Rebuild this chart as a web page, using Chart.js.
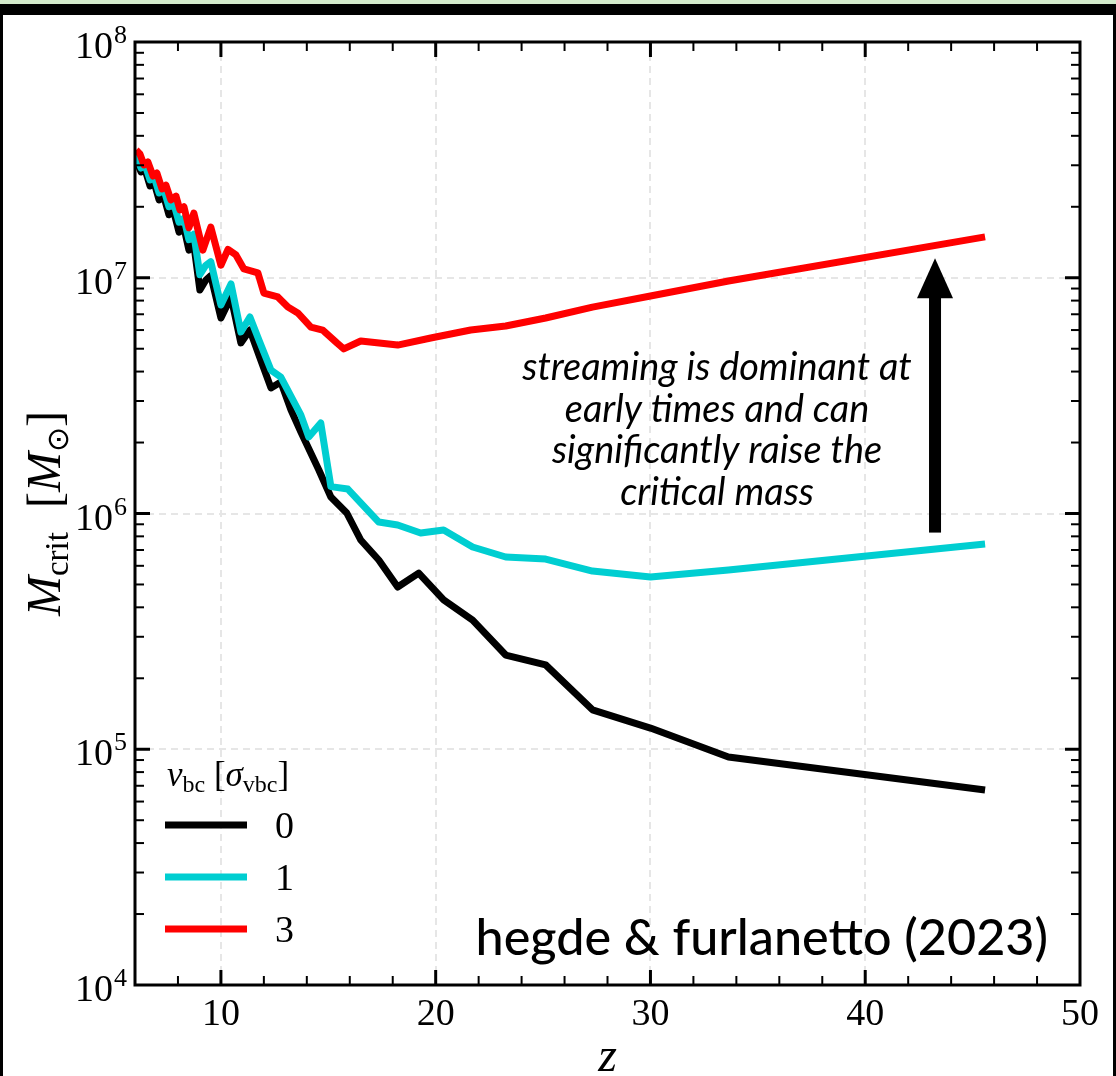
<!DOCTYPE html>
<html>
<head>
<meta charset="utf-8">
<script src="https://cdn.jsdelivr.net/npm/chart.js@4.4.1/dist/chart.umd.min.js"></script>
<style>
html, body { margin: 0; padding: 0; background: #fff; }
#wrap { position: relative; width: 1116px; height: 1076px; overflow: hidden; background: #fff; }
#wrap canvas { position: absolute; left: 0; top: 0; }
.edge { position: absolute; background: #000; }
</style>
</head>
<body>
<div id="wrap">
  <canvas id="chart" width="1116" height="1076"></canvas>
  <div class="edge" style="left:0;top:4px;width:1116px;height:11px"></div>
  <div class="edge" style="left:0;top:0;width:3px;height:1076px"></div>
  <div class="edge" style="left:1113px;top:0;width:3px;height:1076px"></div>
  <div class="edge" style="left:0;top:0;width:1116px;height:4px;background:#d3eacb"></div>
</div>
<script>
// v_bc = 0 (black)
const zV0 = [6.05, 6.28, 6.47, 6.70, 6.88, 7.12, 7.35, 7.58, 7.81, 8.05, 8.28, 8.51, 8.74, 9.02, 9.30, 9.53,
  10.0, 10.47, 10.93, 11.35, 11.77, 12.33, 12.79, 13.26, 13.72, 14.56, 15.12, 15.86, 16.51, 17.35, 18.23,
  19.21, 20.37, 21.72, 23.26, 25.12, 27.30, 30.0, 33.63, 45.58];
const mV0 = [3.16e7, 2.81e7, 2.87e7, 2.45e7, 2.55e7, 2.14e7, 2.20e7, 1.85e7, 1.90e7, 1.56e7, 1.63e7, 1.31e7, 1.38e7, 8.87e6, 9.78e6, 1.02e7,
  6.75e6, 8.29e6, 5.29e6, 6.00e6, 4.70e6, 3.41e6, 3.61e6, 2.75e6, 2.22e6, 1.53e6, 1.175e6, 1.005e6, 7.72e5, 6.35e5, 4.88e5,
  5.59e5, 4.30e5, 3.53e5, 2.51e5, 2.28e5, 1.47e5, 1.23e5, 9.27e4, 6.72e4];

// v_bc = 1 (cyan)
const zV1 = [6.05, 6.28, 6.47, 6.70, 6.88, 7.12, 7.35, 7.58, 7.81, 8.05, 8.28, 8.51, 8.74, 9.02, 9.30, 9.53,
  10.0, 10.47, 10.93, 11.35, 11.77, 12.33, 12.79, 13.72, 14.09, 14.65, 15.12, 15.91, 17.35, 18.23, 19.30,
  20.37, 21.72, 23.26, 25.12, 27.30, 30.0, 33.63, 45.58];
const mV1 = [3.32e7, 2.92e7, 3.01e7, 2.60e7, 2.70e7, 2.29e7, 2.36e7, 2.00e7, 2.06e7, 1.72e7, 1.79e7, 1.45e7, 1.53e7, 1.03e7, 1.13e7, 1.17e7,
  7.66e6, 9.41e6, 5.89e6, 6.82e6, 5.44e6, 4.06e6, 3.79e6, 2.62e6, 2.11e6, 2.42e6, 1.30e6, 1.27e6, 9.20e5, 8.94e5, 8.27e5,
  8.51e5, 7.21e5, 6.54e5, 6.41e5, 5.70e5, 5.38e5, 5.76e5, 7.42e5];

// v_bc = 3 (red)
const zV3 = [6.05, 6.23, 6.42, 6.60, 6.84, 7.02, 7.26, 7.44, 7.67, 7.91, 8.09, 8.28, 8.51, 8.74, 9.16, 9.53,
  10.0, 10.33, 10.70, 11.07, 11.72, 12.0, 12.65, 13.12, 13.58, 14.19, 14.74, 15.40, 15.72, 16.51, 18.23,
  19.77, 21.63, 23.26, 25.12, 27.30, 30.0, 33.63, 45.58];
const mV3 = [3.48e7, 3.35e7, 3.01e7, 3.10e7, 2.70e7, 2.78e7, 2.38e7, 2.47e7, 2.14e7, 2.22e7, 1.94e7, 2.00e7, 1.63e7, 1.88e7, 1.31e7, 1.64e7,
  1.13e7, 1.32e7, 1.25e7, 1.09e7, 1.05e7, 8.61e6, 8.29e6, 7.51e6, 7.09e6, 6.18e6, 6.00e6, 5.29e6, 4.99e6, 5.39e6, 5.18e6,
  5.55e6, 6.00e6, 6.24e6, 6.75e6, 7.51e6, 8.37e6, 9.69e6, 1.49e7];

const seriesLabels = ['0', '1', '3'];
const seriesColors = ['#000000', '#00ced1', '#ff0000'];

const xTicks = [8, 10, 12, 14, 16, 18, 20, 22, 24, 26, 28, 30, 32, 34, 36, 38, 40, 42, 44, 46, 48];
const xMajor = [10, 20, 30, 40, 50];
const xLabels = ['10', '20', '30', '40', '50'];
const yTicks = [2e4, 3e4, 4e4, 5e4, 6e4, 7e4, 8e4, 9e4, 1e5, 2e5, 3e5, 4e5, 5e5, 6e5, 7e5, 8e5, 9e5,
  1e6, 2e6, 3e6, 4e6, 5e6, 6e6, 7e6, 8e6, 9e6, 1e7, 2e7, 3e7, 4e7, 5e7, 6e7, 7e7, 8e7, 9e7];
const yMajor = [1e4, 1e5, 1e6, 1e7, 1e8];
const yExps = ['4', '5', '6', '7', '8'];

const noteLines = ['streaming is dominant at', 'early times and can', 'significantly raise the', 'critical mass'];
const credit = 'hegde & furlanetto (2023)';
const arrowZ = 43.25, arrowFrom = 8.3e5, arrowTo = 1.21e7;

const SERIF = '"Liberation Serif", "DejaVu Serif", serif';
const SANS = 'Lato, "Noto Sans", sans-serif';

function pts(zs, ms) { return zs.map((z, i) => ({ x: z, y: ms[i] })); }

// draws pieces of mixed text along a baseline, returns total width
function richText(ctx, parts, x, y, measureOnly) {
  let cx = x;
  parts.forEach(p => {
    ctx.font = p.f;
    if (!measureOnly) ctx.fillText(p.t, cx, y + (p.dy || 0));
    cx += ctx.measureText(p.t).width;
  });
  return cx - x;
}

const framePlugin = {
  id: 'frame',
  beforeDatasetsDraw(chart) {
    const { ctx, chartArea: a, scales: { x, y } } = chart;
    ctx.save();
    ctx.strokeStyle = '#e6e6e6';
    ctx.lineWidth = 2;
    ctx.setLineDash([7, 5]);
    xMajor.forEach(v => {
      if (v >= x.max) return;
      const px = Math.round(x.getPixelForValue(v));
      ctx.beginPath(); ctx.moveTo(px, a.top); ctx.lineTo(px, a.bottom); ctx.stroke();
    });
    yMajor.forEach(v => {
      if (v <= y.min || v >= y.max) return;
      const py = Math.round(y.getPixelForValue(v));
      ctx.beginPath(); ctx.moveTo(a.left, py); ctx.lineTo(a.right, py); ctx.stroke();
    });
    ctx.restore();
  },
  afterDraw(chart) {
    const { ctx, chartArea: a, scales: { x, y } } = chart;
    ctx.save();
    ctx.strokeStyle = '#000';
    ctx.fillStyle = '#000';

    // inward ticks on all four sides
    const tick = (x1, y1, x2, y2, w) => {
      ctx.lineWidth = w;
      ctx.beginPath(); ctx.moveTo(x1, y1); ctx.lineTo(x2, y2); ctx.stroke();
    };
    xTicks.forEach(v => {
      const px = x.getPixelForValue(v);
      const major = xMajor.includes(v);
      const len = major ? 15 : 9, w = major ? 3 : 2;
      tick(px, a.bottom, px, a.bottom - len, w);
      tick(px, a.top, px, a.top + len, w);
    });
    yTicks.forEach(v => {
      const py = y.getPixelForValue(v);
      const major = yMajor.includes(v);
      const len = major ? 15 : 9, w = major ? 3 : 2;
      tick(a.left, py, a.left + len, py, w);
      tick(a.right, py, a.right - len, py, w);
    });

    // frame
    ctx.lineWidth = 3;
    ctx.strokeRect(a.left, a.top, a.right - a.left, a.bottom - a.top);

    // x tick labels
    ctx.font = '38px ' + SERIF;
    ctx.textAlign = 'center';
    ctx.textBaseline = 'alphabetic';
    xMajor.forEach((v, i) => ctx.fillText(xLabels[i], x.getPixelForValue(v), a.bottom + 40));

    // y tick labels 10^n
    ctx.textAlign = 'left';
    yMajor.forEach((v, i) => {
      const py = y.getPixelForValue(v);
      ctx.font = '26px ' + SERIF;
      const ew = ctx.measureText(yExps[i]).width;
      ctx.font = '38px ' + SERIF;
      const bw = ctx.measureText('10').width;
      const right = a.left - 8;
      ctx.fillText('10', right - ew - bw - 1, py + 16);
      ctx.font = '26px ' + SERIF;
      ctx.fillText(yExps[i], right - ew, py + 1);
    });

    // y axis title
    const yTitle = [
      { t: 'M', f: 'italic 48px ' + SERIF },
      { t: 'crit', f: '33px ' + SERIF, dy: 8 },
      { t: '  [', f: '48px ' + SERIF },
      { t: 'M', f: 'italic 48px ' + SERIF },
      { t: '\u2299', f: '30px "DejaVu Sans", ' + SERIF, dy: 8 },
      { t: ']', f: '48px ' + SERIF }
    ];
    ctx.save();
    ctx.translate(60, (a.top + a.bottom) / 2);
    ctx.rotate(-Math.PI / 2);
    const tw = richText(ctx, yTitle, 0, 0, true);
    richText(ctx, yTitle, -tw / 2, 0);
    ctx.restore();

    // x axis title
    ctx.font = 'italic 48px ' + SERIF;
    ctx.textAlign = 'center';
    ctx.fillText('z', (a.left + a.right) / 2, a.bottom + 86);

    // legend
    ctx.textAlign = 'left';
    const lgTitle = [
      { t: 'v', f: 'italic 35px ' + SERIF },
      { t: 'bc', f: '24px ' + SERIF, dy: 6 },
      { t: ' [', f: '35px ' + SERIF },
      { t: '\u03c3', f: 'italic 35px ' + SERIF },
      { t: 'vbc', f: '24px ' + SERIF, dy: 6 },
      { t: ']', f: '35px ' + SERIF }
    ];
    const lx = a.left + 30;
    richText(ctx, lgTitle, lx + 2, a.bottom - 199);
    chart.data.datasets.forEach((ds, i) => {
      const ly = a.bottom - 160 + i * 52;
      ctx.strokeStyle = ds.borderColor;
      ctx.lineWidth = 7;
      ctx.beginPath(); ctx.moveTo(lx, ly); ctx.lineTo(lx + 82, ly); ctx.stroke();
      ctx.font = '38px ' + SERIF;
      ctx.fillText(ds.label, lx + 110, ly + 13);
    });

    // annotation text, fitted to the reference width
    ctx.fillStyle = '#000';
    ctx.font = 'italic 30px ' + SANS;
    const nfs = 30 * 390 / ctx.measureText(noteLines[0]).width;
    ctx.font = 'italic ' + nfs.toFixed(1) + 'px ' + SANS;
    ctx.textAlign = 'center';
    const ncx = x.getPixelForValue(33.1);
    noteLines.forEach((t, i) => ctx.fillText(t, ncx, 380 + i * 41.5));

    // arrow
    const ax = x.getPixelForValue(arrowZ);
    const ay0 = y.getPixelForValue(arrowFrom);
    const ay1 = y.getPixelForValue(arrowTo);
    ctx.fillRect(ax - 6, ay1 + 38, 12, ay0 - ay1 - 38);
    ctx.beginPath();
    ctx.moveTo(ax, ay1);
    ctx.lineTo(ax + 18, ay1 + 40);
    ctx.lineTo(ax - 18, ay1 + 40);
    ctx.closePath();
    ctx.fill();

    // credit
    ctx.font = '500 42px ' + SANS;
    const cfs = 42 * 573 / ctx.measureText(credit).width;
    ctx.font = '500 ' + cfs.toFixed(1) + 'px ' + SANS;
    ctx.textAlign = 'right';
    ctx.fillText(credit, a.right - 32, a.bottom - 30);

    ctx.restore();
  }
};

new Chart(document.getElementById('chart'), {
  type: 'line',
  data: {
    datasets: [
      { label: seriesLabels[0], data: pts(zV0, mV0), borderColor: seriesColors[0], order: 3 },
      { label: seriesLabels[1], data: pts(zV1, mV1), borderColor: seriesColors[1], order: 2 },
      { label: seriesLabels[2], data: pts(zV3, mV3), borderColor: seriesColors[2], order: 1 }
    ]
  },
  options: {
    responsive: false,
    animation: false,
    events: [],
    layout: { padding: { left: 135, top: 42, right: 36, bottom: 91 } },
    elements: {
      point: { radius: 0 },
      line: { borderWidth: 7, tension: 0, borderJoinStyle: 'round', borderCapStyle: 'butt', fill: false }
    },
    plugins: { legend: { display: false }, tooltip: { enabled: false } },
    scales: {
      x: {
        type: 'linear', min: 6, max: 50,
        ticks: { display: false },
        grid: { display: false, drawTicks: false },
        border: { display: false }
      },
      y: {
        type: 'logarithmic', min: 1e4, max: 1e8,
        ticks: { display: false },
        grid: { display: false, drawTicks: false },
        border: { display: false }
      }
    }
  },
  plugins: [framePlugin]
});
</script>
</body>
</html>
